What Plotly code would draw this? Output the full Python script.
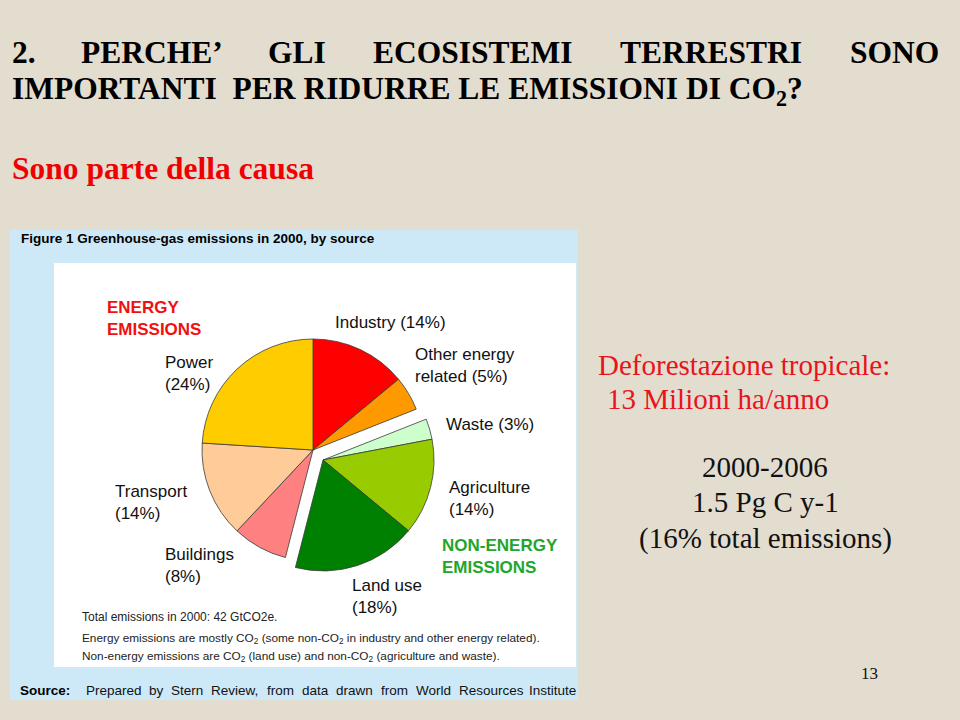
import plotly.graph_objects as go

# ---------------- data ----------------
sources = ["Industry", "Other energy related", "Waste", "Agriculture",
           "Land use", "Buildings", "Transport", "Power"]
shares = [14, 5, 3, 14, 18, 8, 14, 24]
groups = ["energy", "energy", "non-energy", "non-energy",
          "non-energy", "energy", "energy", "energy"]
label_names = ["Industry", "Other energy<br>related", "Waste", "Agriculture<br>",
               "Land use<br>", "Buildings<br>", "Transport<br>", "Power<br>"]
slice_colors = ["#FF0000", "#FF9900", "#CCFFCC", "#99CC00",
                "#008000", "#FF8080", "#FFCC99", "#FFCC00"]

title_line1 = ["2.", "PERCHE’", "GLI", "ECOSISTEMI", "TERRESTRI", "SONO"]
title_line2 = "IMPORTANTI  PER RIDURRE LE EMISSIONI DI CO<sub>2</sub>?"
subtitle = "Sono parte della causa"
fig_title = "Figure 1 Greenhouse-gas emissions in 2000, by source"
notes = ["Total emissions in 2000: 42 GtCO2e.",
         "Energy emissions are mostly CO<sub>2</sub> (some non-CO<sub>2</sub> in industry and other energy related).",
         "Non-energy emissions are CO<sub>2</sub> (land use) and non-CO<sub>2</sub> (agriculture and waste)."]
source_words = ["Prepared", "by", "Stern", "Review,", "from", "data", "drawn",
                "from", "World", "Resources", "Institute"]
right_red = ["Deforestazione tropicale:", "13 Milioni ha/anno"]
right_black = ["2000-2006", "1.5 Pg C y-1", "(16% total emissions)"]
slide_number = "13"

# ---------------- layout helpers ----------------
W, H = 960, 720


def px(x):
    return x / W


def py(y):
    return 1 - y / H


BG = "#E3DDD0"
BLUE = "#CDE9F8"
SANS = "Arial, Liberation Sans, sans-serif"
SERIF = "Times New Roman, Liberation Serif, serif"

fig = go.Figure()

# pie geometry (pixels)
cx, cy, r = 313, 450, 111
shift = (10, 10)  # pull-out of the non-energy group


def domain(cxp, cyp):
    return dict(x=[px(cxp - r), px(cxp + r)], y=[py(cyp + r), py(cyp - r)])


line_col = "#3a3a3a"
for grp, (ox, oy) in (("energy", (0, 0)), ("non-energy", shift)):
    cols = [c if g == grp else "rgba(0,0,0,0)" for c, g in zip(slice_colors, groups)]
    widths = [0.8 if g == grp else 0 for g in groups]
    fig.add_trace(go.Pie(
        labels=sources, values=shares, sort=False, direction="clockwise",
        rotation=0, textinfo="none", hoverinfo="label+percent",
        marker=dict(colors=cols, line=dict(color=line_col, width=widths)),
        domain=domain(cx + ox, cy + oy), showlegend=False,
    ))

shapes = [
    dict(type="rect", xref="paper", yref="paper", x0=px(10), x1=px(578),
         y0=py(700), y1=py(230), fillcolor=BLUE, line=dict(width=0), layer="below"),
    dict(type="rect", xref="paper", yref="paper", x0=px(54), x1=px(576),
         y0=py(667), y1=py(263), fillcolor="white", line=dict(width=0), layer="below"),
]

ann = []


def text(x, y, s, size, color="black", family=SANS, xanchor="left", bold=False):
    if bold:
        s = "<b>" + s + "</b>"
    ann.append(dict(x=px(x), y=py(y), xref="paper", yref="paper", text=s,
                    showarrow=False, xanchor=xanchor, yanchor="middle",
                    align=xanchor,
                    font=dict(size=size, color=color, family=family)))


# slide title
t1_x = [10, 79, 266, 371, 618, 848]
for w, x in zip(title_line1, t1_x):
    text(x, 53, w, 31.5, family=SERIF, bold=True)
text(10, 91, title_line2, 31.5, family=SERIF, bold=True)
text(10, 168, subtitle, 31.5, color="#F00000", family=SERIF, bold=True)

# figure panel texts
text(19, 239, fig_title, 13.5, bold=True)
text(105, 318, "ENERGY<br>EMISSIONS", 17, color="#F01010", bold=True)
text(440, 556, "NON-ENERGY<br>EMISSIONS", 17, color="#22A62A", bold=True)

label_pos = {
    "Industry": (333, 322), "Other energy related": (413, 365), "Waste": (444, 424),
    "Agriculture": (447, 498), "Land use": (350, 596), "Buildings": (163, 565),
    "Transport": (113, 502), "Power": (163, 373),
}
for name, lab, sh in zip(sources, label_names, shares):
    x, y = label_pos[name]
    sep = "" if lab.endswith("<br>") else " "
    text(x, y, f"{lab}{sep}({sh}%)", 17, color="#111111")

text(80, 617, notes[0], 12, color="#222222")
text(80, 638, notes[1], 11.8, color="#222222")
text(80, 656, notes[2], 11.8, color="#222222")

text(18, 690, "Source:", 13.5, bold=True)
src_x = [84, 147, 169, 209, 265, 300, 334, 379, 414, 457, 527]
for w, x in zip(source_words, src_x):
    text(x, 690, w, 13.5, color="#111111")

# right-hand texts
text(596, 365, right_red[0], 29, color="#E8141C", family=SERIF)
text(605, 399, right_red[1], 29, color="#E8141C", family=SERIF)
for s, y in zip(right_black, [467, 502, 538]):
    text(765, y, s, 29, color="#111111", family=SERIF, xanchor="center")

text(869, 673, slide_number, 17, color="#111111", family=SERIF, xanchor="center")

fig.update_layout(
    width=W, height=H, margin=dict(l=0, r=0, t=0, b=0),
    paper_bgcolor=BG, plot_bgcolor=BG,
    shapes=shapes, annotations=ann,
)

fig.write_html("out.html")
